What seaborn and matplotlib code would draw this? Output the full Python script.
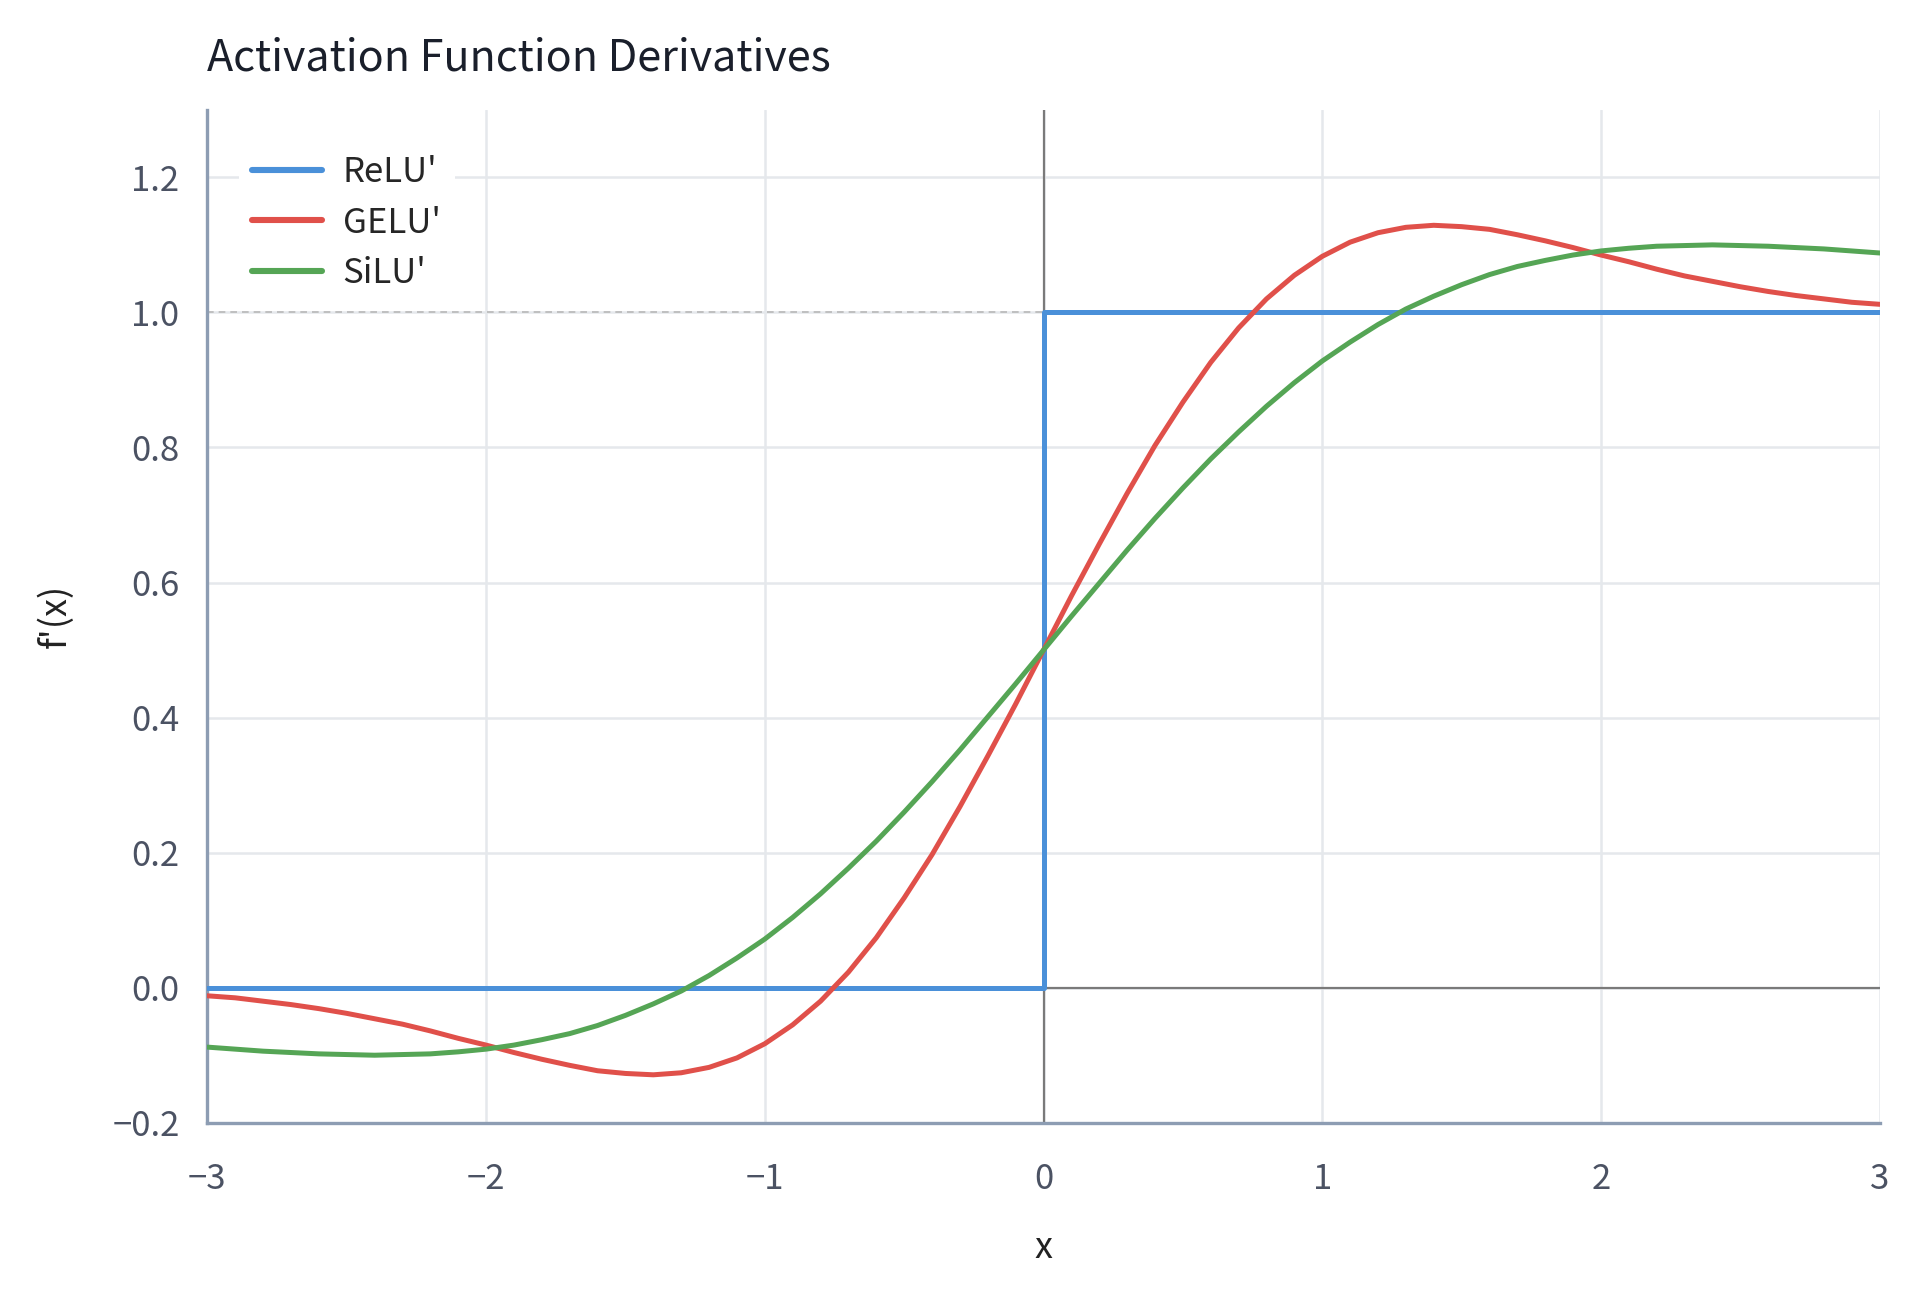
import numpy as np
import pandas as pd
import matplotlib.pyplot as plt
import seaborn as sns

# values
x_vals = [round(-3.0 + 0.1 * i, 1) for i in range(61)]

gelu_vals = [
    -0.012, -0.015, -0.020, -0.025, -0.031, -0.038, -0.046, -0.054, -0.064, -0.075,
    -0.085, -0.096, -0.106, -0.115, -0.123, -0.127, -0.129, -0.126, -0.118, -0.104,
    -0.083, -0.055, -0.020, 0.023, 0.074, 0.133, 0.197, 0.268, 0.343, 0.420,
    0.500,
    0.580, 0.657, 0.732, 0.803, 0.867, 0.926, 0.977, 1.020, 1.055, 1.083,
    1.104, 1.118, 1.126, 1.129, 1.127, 1.123, 1.115, 1.106, 1.096, 1.085,
    1.075, 1.064, 1.054, 1.046, 1.038, 1.031, 1.025, 1.020, 1.015, 1.012,
]

silu_vals = [
    -0.088, -0.091, -0.094, -0.096, -0.098, -0.099, -0.100, -0.099, -0.098, -0.095,
    -0.091, -0.085, -0.077, -0.068, -0.056, -0.041, -0.024, -0.005, 0.018, 0.044,
    0.072, 0.104, 0.139, 0.177, 0.217, 0.260, 0.305, 0.352, 0.401, 0.450,
    0.500,
    0.550, 0.599, 0.648, 0.695, 0.740, 0.783, 0.823, 0.861, 0.896, 0.928,
    0.956, 0.982, 1.005, 1.024, 1.041, 1.056, 1.068, 1.077, 1.085, 1.091,
    1.095, 1.098, 1.099, 1.100, 1.099, 1.098, 1.096, 1.094, 1.091, 1.088,
]

relu_x = [-3.0, 0.0, 0.0, 3.0]
relu_vals = [0.0, 0.0, 1.0, 1.0]

names = ["ReLU'", "GELU'", "SiLU'"]
colors = {"ReLU'": "#4a90d9", "GELU'": "#e0504a", "SiLU'": "#55a555"}

x_ticks = [-3, -2, -1, 0, 1, 2, 3]
y_ticks = [-0.2, 0.0, 0.2, 0.4, 0.6, 0.8, 1.0, 1.2]

df = pd.concat([
    pd.DataFrame({"x": relu_x, "y": relu_vals, "fn": names[0]}),
    pd.DataFrame({"x": x_vals, "y": gelu_vals, "fn": names[1]}),
    pd.DataFrame({"x": x_vals, "y": silu_vals, "fn": names[2]}),
], ignore_index=True)

sns.set_theme(style="white")
plt.rcParams['font.family'] = ['Noto Sans CJK KR', 'DejaVu Sans']

fig, ax = plt.subplots(figsize=(9.6, 6.46), dpi=200)
fig.subplots_adjust(left=0.108, right=0.979, top=0.915, bottom=0.131)

ax.grid(True, color="#e5e8ec", linewidth=0.9, zorder=0)
ax.axhline(0, color="#7a7a7a", linewidth=0.8, zorder=1)
ax.axvline(0, color="#7a7a7a", linewidth=0.8, zorder=1)
ax.axhline(1.0, color="#b8b8b8", linewidth=0.6, linestyle=(0, (4, 3)), zorder=1)

sns.lineplot(data=df, x="x", y="y", hue="fn", hue_order=names, palette=colors,
             estimator=None, sort=False, linewidth=1.8, ax=ax, zorder=3)

ax.set_xlim(-3, 3)
ax.set_ylim(-0.2, 1.3)
ax.set_xticks(x_ticks)
ax.set_xticklabels([str(t).replace("-", "\u2212") for t in x_ticks])
ax.set_yticks(y_ticks)
ax.set_yticklabels([f"{t:.1f}".replace("-", "\u2212") for t in y_ticks])

for side in ["top", "right"]:
    ax.spines[side].set_visible(False)
for side in ["left", "bottom"]:
    ax.spines[side].set_color("#8d9db3")
    ax.spines[side].set_linewidth(1.2)

ax.tick_params(axis="both", colors="#3f4656", labelsize=12.5, length=5, width=1.0,
               direction="out")
ax.tick_params(axis="x", pad=9)
ax.tick_params(axis="y", pad=5)
for lbl in ax.get_xticklabels() + ax.get_yticklabels():
    lbl.set_color("#4b5263")

ax.set_xlabel("x", fontsize=13, color="#222", labelpad=12)
ax.set_ylabel("f'(x)", fontsize=13, color="#222", labelpad=14)
ax.set_title("Activation Function Derivatives", loc="left", fontsize=15.5,
             color="#1a1f2b", pad=14)

leg = ax.legend(title=None, loc="upper left", fontsize=12.5, frameon=True,
                facecolor="white", edgecolor="none", framealpha=1,
                handlelength=2.0, handletextpad=0.6, borderaxespad=0.9,
                labelspacing=0.45)
for line in leg.get_lines():
    line.set_linewidth(2.2)

fig.savefig("out.png", dpi=200)
